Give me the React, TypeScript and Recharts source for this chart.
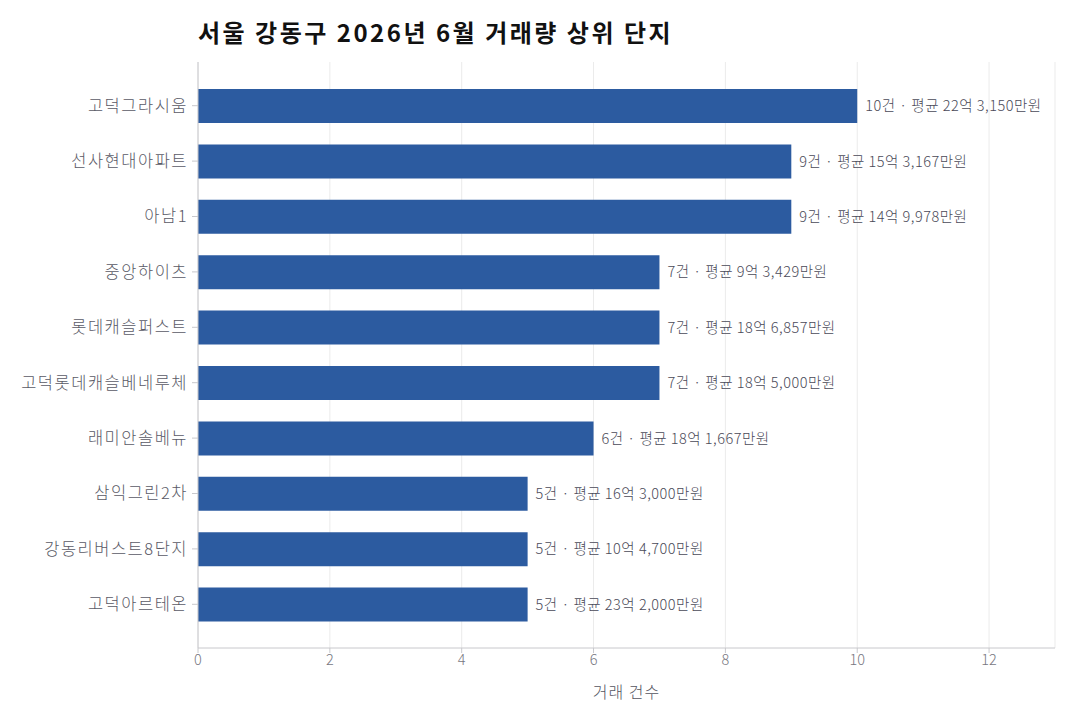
import { Bar, BarChart, CartesianGrid, LabelList, XAxis, YAxis } from "recharts"

const complexes = [
  "고덕그라시움",
  "선사현대아파트",
  "아남1",
  "중앙하이츠",
  "롯데캐슬퍼스트",
  "고덕롯데캐슬베네루체",
  "래미안솔베뉴",
  "삼익그린2차",
  "강동리버스트8단지",
  "고덕아르테온"
]

const tradeCounts = [10, 9, 9, 7, 7, 7, 6, 5, 5, 5]

// 평균 거래가 (만원)
const avgPrices = [223150, 153167, 149978, 93429, 186857, 185000, 181667, 163000, 104700, 232000]

const xTicks = [0, 2, 4, 6, 8, 10, 12]

const formatPrice = (manwon: number) => {
  const eok = Math.floor(manwon / 10000)
  const rest = manwon % 10000
  return `${eok}억 ${rest.toLocaleString("en-US")}만원`
}

const data = complexes.map((name, i) => ({
  name,
  count: tradeCounts[i],
  label: `${tradeCounts[i]}건 · 평균 ${formatPrice(avgPrices[i])}`
}))

const font = "'Noto Sans CJK KR', 'Noto Sans', sans-serif"

const App = () => {
  return (
    <div
      style={{
        position: "absolute",
        left: 0,
        top: 0,
        width: 1080,
        height: 720,
        background: "#fff",
        fontFamily: font
      }}
    >
      <div
        style={{
          position: "absolute",
          left: 198,
          top: 14,
          fontSize: 24,
          fontWeight: 700,
          color: "#111",
          letterSpacing: 2.5
        }}
      >
        서울 강동구 2026년 6월 거래량 상위 단지
      </div>
      <BarChart
        width={1080}
        height={720}
        data={data}
        layout="vertical"
        margin={{ top: 62, right: 25, bottom: 12, left: 0 }}
        barSize={34}
      >
        <CartesianGrid horizontal={false} stroke="#ebebeb" />
        <XAxis
          type="number"
          domain={[0, 13]}
          ticks={xTicks}
          height={60}
          stroke="#c8c8cc"
          tick={{ fill: "#77777f", fontSize: 14.5, fontWeight: 300, fontFamily: font }}
          tickSize={5}
          label={{
            value: "거래 건수",
            position: "insideBottom",
            offset: 10,
            fill: "#55555f",
            fontSize: 16,
            fontWeight: 300,
            letterSpacing: 1,
            fontFamily: font
          }}
        />
        <YAxis
          type="category"
          dataKey="name"
          width={198}
          padding={{ top: 16, bottom: 16 }}
          stroke="#c8c8cc"
          tickSize={6}
          tickMargin={4}
          tick={{ fill: "#5a5a66", fontSize: 16.5, fontWeight: 300, letterSpacing: 1.5, fontFamily: font }}
        />
        <Bar dataKey="count" fill="#2c5ba0" isAnimationActive={false}>
          <LabelList
            dataKey="label"
            position="right"
            offset={8}
            fill="#4a4a58"
            fontSize={14.5}
            fontWeight={300}
            letterSpacing={0.5}
            fontFamily={font}
          />
        </Bar>
      </BarChart>
    </div>
  )
}

export default App
